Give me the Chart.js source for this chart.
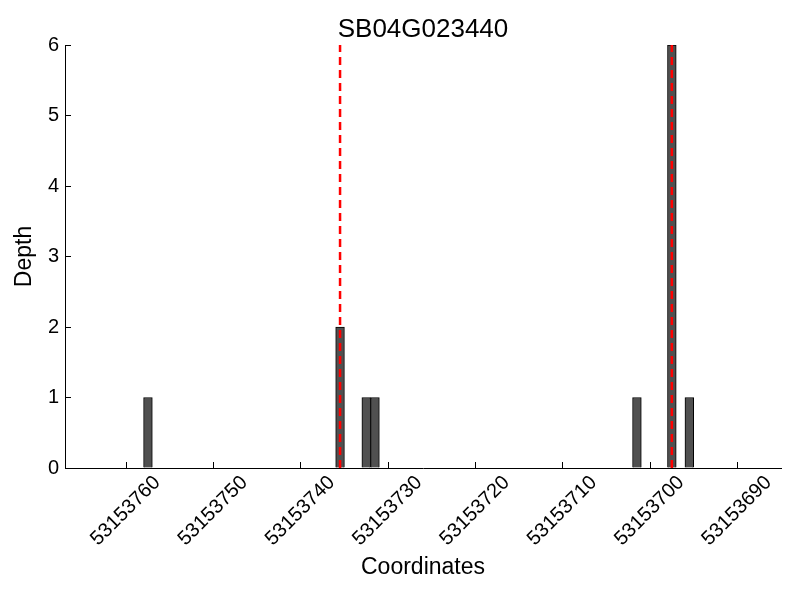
<!DOCTYPE html>
<html lang="en">
<head>
    <meta charset="UTF-8">
    <title>SB04G023440 Depth</title>
    <script src="https://cdn.jsdelivr.net/npm/chart.js"></script>
    <style>
        body { margin: 0; background: #ffffff; }
        #myChart { display: block; }
    </style>
</head>
<body>
    <canvas id="myChart" width="800" height="600"></canvas>

    <script>
        // Data
        const geneName = 'SB04G023440';
        const coordinates = [53153757.5, 53153735.5, 53153732.5, 53153731.5, 53153701.5, 53153697.5, 53153695.5];
        const depths = [1, 2, 1, 1, 1, 6, 1];
        const markerPositions = [53153735.5, 53153697.5];
        const xTicks = [53153760, 53153750, 53153740, 53153730, 53153720, 53153710, 53153700, 53153690];
        const yTicks = [0, 1, 2, 3, 4, 5, 6];
        const xMin = 53153685;
        const xMax = 53153767;

        const fonte = 'Liberation Sans, Arial, sans-serif';

        const datasets = [{
            type: 'bar',
            xAxisID: 'x',
            yAxisID: 'y',
            data: coordinates.map((c, i) => ({ x: c, y: depths[i] })),
            backgroundColor: '#505050',
            borderColor: '#000000',
            borderWidth: 1,
            barPercentage: 1,
            categoryPercentage: 1,
            order: 2
        }];

        // Red dashed markers, drawn on top of the bars
        markerPositions.forEach(p => {
            datasets.push({
                type: 'line',
                xAxisID: 'x',
                yAxisID: 'y',
                data: [{ x: p, y: yTicks[0] }, { x: p, y: yTicks[yTicks.length - 1] }],
                borderColor: '#ff0000',
                borderWidth: 2.5,
                borderDash: [8, 5],
                pointRadius: 0,
                fill: false,
                order: 1
            });
        });

        const ctx = document.getElementById('myChart').getContext('2d');
        new Chart(ctx, {
            type: 'bar',
            data: { datasets: datasets },
            options: {
                responsive: false,
                animation: false,
                layout: { padding: { top: 0, right: 19, bottom: 0, left: 0 } },
                plugins: {
                    legend: { display: false },
                    tooltip: { enabled: false },
                    title: { display: false }
                },
                scales: {
                    x: {
                        type: 'linear',
                        reverse: true,
                        offset: false,
                        min: xMin,
                        max: xMax,
                        afterBuildTicks: scale => {
                            scale.ticks = xTicks.map(v => ({ value: v }));
                        },
                        afterFit: scale => { scale.height = 132; },
                        border: { display: true, color: '#000000', width: 1 },
                        grid: { offset: false, drawOnChartArea: false, color: '#000000', tickLength: -6 },
                        ticks: {
                            color: '#000000',
                            font: { family: fonte, size: 20 },
                            minRotation: 45,
                            maxRotation: 45,
                            autoSkip: false,
                            padding: 9,
                            labelOffset: 31,
                            callback: v => String(v)
                        },
                        title: {
                            display: true,
                            text: 'Coordinates',
                            color: '#000000',
                            font: { family: fonte, size: 23 },
                            padding: { top: 0, bottom: 19 }
                        }
                    },
                    y: {
                        min: yTicks[0],
                        max: yTicks[yTicks.length - 1],
                        afterBuildTicks: scale => {
                            scale.ticks = yTicks.map(v => ({ value: v }));
                        },
                        afterFit: scale => { scale.width = 65; },
                        border: { display: true, color: '#000000', width: 1 },
                        grid: { offset: false, drawOnChartArea: false, color: '#000000', tickLength: -6 },
                        ticks: {
                            color: '#000000',
                            font: { family: fonte, size: 20 },
                            padding: 12
                        },
                        title: {
                            display: true,
                            text: 'Depth',
                            color: '#000000',
                            font: { family: fonte, size: 23 },
                            padding: { top: 11, bottom: 0 }
                        }
                    },
                    // empty top axis, only used so the title is centred over the plot
                    titulo: {
                        type: 'linear',
                        position: 'top',
                        display: true,
                        afterFit: scale => { scale.height = 45; },
                        border: { display: false },
                        grid: { display: false },
                        ticks: { display: false },
                        title: {
                            display: true,
                            text: geneName,
                            color: '#000000',
                            font: { family: fonte, size: 26 },
                            padding: { top: 14, bottom: 0 }
                        }
                    }
                }
            }
        });
    </script>
</body>
</html>
